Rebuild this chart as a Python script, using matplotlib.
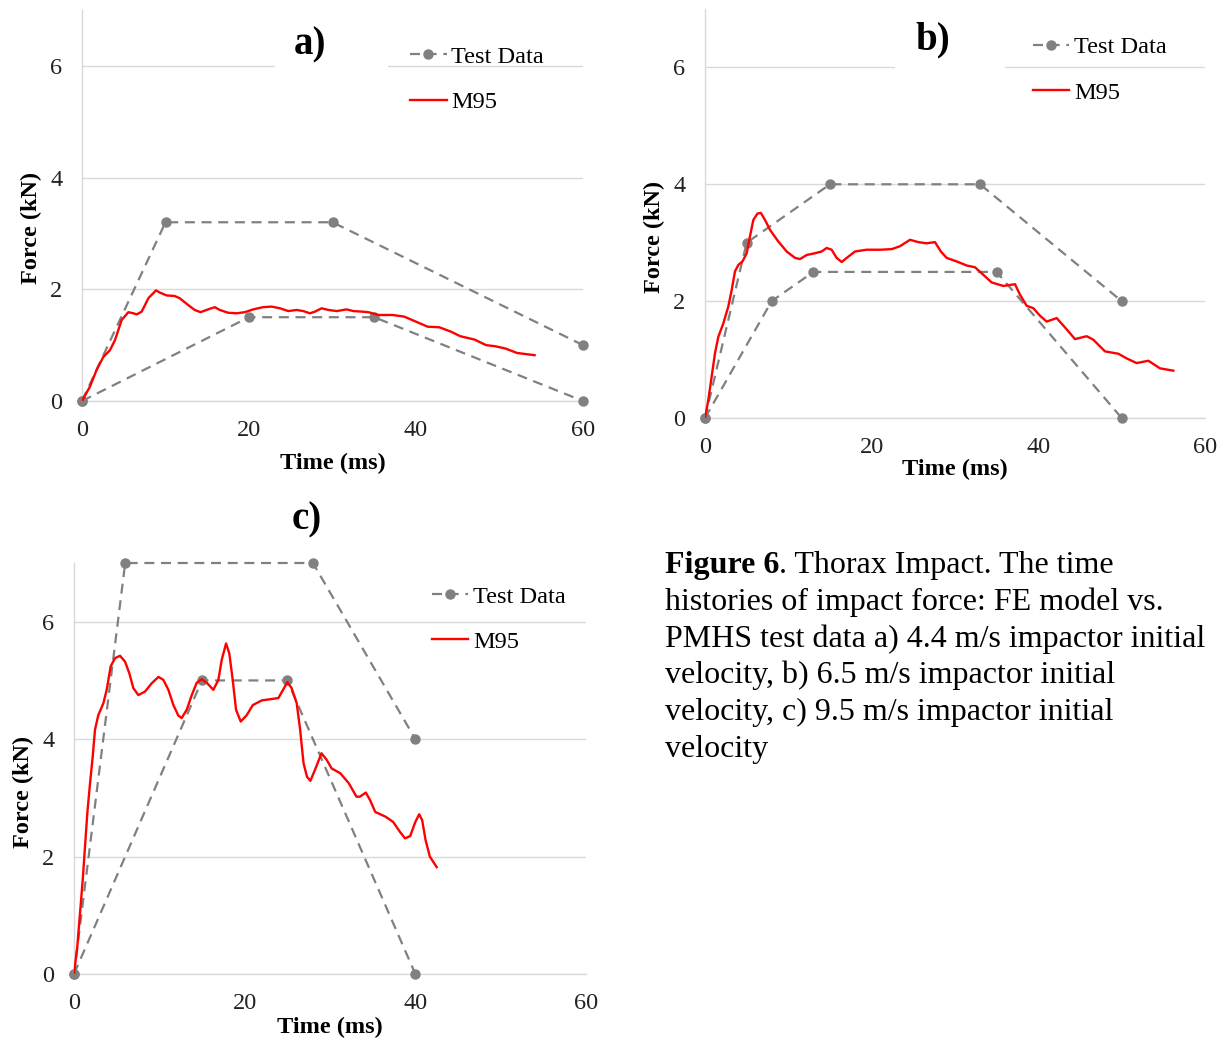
import matplotlib
matplotlib.use("Agg")
import matplotlib.pyplot as plt
from matplotlib.patches import Rectangle

plt.rcParams['font.family'] = ['Liberation Serif', 'DejaVu Serif']

# test data corridors (upper / lower) per panel
td_a_up_t = [0, 10, 30, 60]
td_a_up_f = [0, 3.2, 3.2, 1.0]
td_a_lo_t = [0, 20, 35, 60]
td_a_lo_f = [0, 1.5, 1.5, 0]

td_b_up_t = [0, 5, 15, 33, 50]
td_b_up_f = [0, 3.0, 4.0, 4.0, 2.0]
td_b_lo_t = [0, 8, 13, 35, 50]
td_b_lo_f = [0, 2.0, 2.5, 2.5, 0]

td_c_up_t = [0, 6, 28, 40]
td_c_up_f = [0, 7.0, 7.0, 4.0]
td_c_lo_t = [0, 15, 25, 40]
td_c_lo_f = [0, 5.0, 5.0, 0]

# M95 model curves
m95_a_t = [0, 0.96, 1.76, 2.56, 3.35, 3.95, 4.75, 5.55, 6.15, 6.55,
           7.15, 7.95, 8.86, 9.34, 10.14, 11.1, 11.7, 12.7, 13.5, 14.2,
           15.1, 15.9, 16.5, 17.5, 18.5, 19.5, 20.5, 21.7, 22.7, 23.7,
           24.7, 25.7, 26.5, 27.3, 27.9, 28.7, 29.5, 30.5, 31.7, 32.5,
           33.5, 34.3, 35.5, 37.2, 38.6, 40.0, 41.4, 42.8, 44.2, 45.3,
           47.0, 48.4, 49.5, 50.7, 52.1, 54.2]
m95_a_f = [0, 0.26, 0.56, 0.79, 0.91, 1.09, 1.45, 1.59, 1.57, 1.55,
           1.60, 1.84, 1.98, 1.94, 1.89, 1.88, 1.84, 1.72, 1.63, 1.59,
           1.64, 1.68, 1.63, 1.58, 1.57, 1.59, 1.64, 1.68, 1.69, 1.66,
           1.61, 1.63, 1.61, 1.57, 1.60, 1.66, 1.63, 1.61, 1.64, 1.61,
           1.60, 1.59, 1.54, 1.54, 1.51, 1.42, 1.33, 1.32, 1.24, 1.16,
           1.10, 1.00, 0.98, 0.94, 0.86, 0.82]

m95_b_t = [0, 0.4, 0.8, 1.2, 1.6, 2.2, 2.8, 3.2, 3.6, 4.0,
           4.5, 5.0, 5.4, 5.8, 6.3, 6.7, 7.2, 7.8, 8.8, 9.8,
           10.8, 11.4, 12.2, 13.2, 14.0, 14.6, 15.2, 15.8, 16.4, 17.0,
           18.0, 19.4, 21.0, 22.4, 23.4, 24.6, 25.6, 26.6, 27.6, 28.3,
           29.0, 30.2, 31.4, 32.4, 33.4, 34.4, 35.8, 37.2, 37.8, 38.6,
           39.4, 40.2, 41.0, 42.2, 43.2, 44.4, 45.8, 46.6, 48.0, 49.6,
           50.6, 51.8, 53.2, 54.6, 56.2]
m95_b_f = [0, 0.31, 0.71, 1.11, 1.39, 1.62, 1.91, 2.19, 2.51, 2.62,
           2.68, 2.82, 3.11, 3.39, 3.50, 3.51, 3.39, 3.22, 3.02, 2.85,
           2.74, 2.72, 2.79, 2.82, 2.85, 2.91, 2.88, 2.74, 2.67, 2.74,
           2.85, 2.88, 2.88, 2.89, 2.94, 3.05, 3.01, 2.99, 3.01, 2.85,
           2.74, 2.68, 2.61, 2.58, 2.45, 2.32, 2.26, 2.29, 2.11, 1.92,
           1.88, 1.75, 1.65, 1.71, 1.55, 1.35, 1.40, 1.34, 1.14, 1.10,
           1.02, 0.94, 0.98, 0.85, 0.81]

m95_c_t = [0, 0.39, 0.70, 1.02, 1.29, 1.56, 1.88, 2.19, 2.46, 2.85,
           3.44, 3.83, 4.30, 4.81, 5.39, 5.98, 6.49, 6.95, 7.54, 8.32,
           9.1, 9.89, 10.47, 11.06, 11.65, 12.23, 12.62, 13.21, 13.80, 14.38,
           14.97, 15.56, 16.33, 16.92, 17.31, 17.82, 18.2, 18.6, 18.99, 19.54,
           20.25, 20.95, 22.0, 23.0, 23.95, 24.5, 25.0, 25.5, 26.1, 26.5,
           26.9, 27.3, 27.7, 28.25, 29.0, 29.6, 30.2, 31.2, 32.2, 33.1,
           33.5, 34.2, 34.7, 35.3, 36.5, 37.4, 38.2, 38.8, 39.4, 40.0,
           40.45, 40.8, 41.2, 41.7, 42.5]
m95_c_f = [0, 0.47, 1.03, 1.60, 2.17, 2.74, 3.25, 3.70, 4.16, 4.41,
           4.61, 4.84, 5.24, 5.38, 5.42, 5.32, 5.12, 4.87, 4.75, 4.81,
           4.95, 5.06, 5.01, 4.84, 4.58, 4.40, 4.36, 4.50, 4.75, 4.96,
           5.02, 4.96, 4.84, 5.01, 5.35, 5.63, 5.46, 5.01, 4.50, 4.30,
           4.41, 4.58, 4.66, 4.68, 4.70, 4.84, 4.97, 4.87, 4.61, 4.16,
           3.59, 3.36, 3.29, 3.48, 3.76, 3.65, 3.50, 3.42, 3.25, 3.02,
           3.02, 3.09, 2.96, 2.76, 2.68, 2.59, 2.42, 2.31, 2.35, 2.59,
           2.72, 2.62, 2.28, 2.00, 1.82]

W, H = 1224, 1044
fig = plt.figure(figsize=(W / 100, H / 100), dpi=100)

GRID = '#d9d9d9'
GREY = '#808080'


def px_rect(left, right, top, bottom):
    return [left / W, (H - bottom) / H, (right - left) / W, (bottom - top) / H]


def panel(rect, up, lo, m95, title, title_xy, leg_xy, xlab_y, gap=None):
    ax = fig.add_axes(rect)
    ax.set_xlim(0, 60)
    ax.set_ylim(0, 7)
    ax.set_xticks([0, 20, 40, 60])
    ax.set_yticks([0, 2, 4, 6])
    ax.set_axisbelow(True)
    ax.grid(axis='y', color=GRID, lw=1.0)
    for s in ('top', 'right'):
        ax.spines[s].set_visible(False)
    for s in ('left', 'bottom'):
        ax.spines[s].set_color(GRID)
        ax.spines[s].set_linewidth(1.0)
    ax.tick_params(length=0, labelsize=17.5, pad=14, colors='#222222')
    ax.set_xlabel('Time (ms)', fontsize=17.5, fontweight='bold', va='center')
    ax.set_ylabel('Force (kN)', fontsize=17.5, fontweight='bold', labelpad=6)
    ax.xaxis.set_label_coords(0.5, xlab_y)
    ax.yaxis.label.set_y(0.443)

    ax.plot(up[0], up[1], color=GREY, lw=1.6, dashes=(4.5, 3), marker='o',
            ms=6.5, label='Test Data', clip_on=False, zorder=3)
    ax.plot(lo[0], lo[1], color=GREY, lw=1.6, dashes=(4.5, 3), marker='o',
            ms=6.5, clip_on=False, zorder=3)
    ax.plot(m95[0], m95[1], color='#ff0000', lw=1.7, label='M95', zorder=4)

    if gap is not None:
        # white chart-title box that hides the top gridline
        ax.add_patch(Rectangle((gap[0], gap[2]), gap[1] - gap[0], gap[3] - gap[2],
                               transform=ax.transAxes, fc='white', ec='none',
                               zorder=2.5))
    ax.text(title_xy[0], title_xy[1], title, transform=ax.transAxes,
            fontsize=28, fontweight='bold', ha='center', va='center', zorder=5)
    ax.legend(loc='upper left', bbox_to_anchor=leg_xy, frameon=False,
              fontsize=17.5, handlelength=1.5, handletextpad=0.2,
              labelspacing=0.95, borderpad=0, borderaxespad=0)
    return ax


panel(px_rect(82, 583, 10, 401), (td_a_up_t, td_a_up_f), (td_a_lo_t, td_a_lo_f),
      (m95_a_t, m95_a_f), 'a)', (0.455, 0.91), (0.655, 0.908), -0.159,
      gap=(0.385, 0.611, 0.80, 0.93))
panel(px_rect(705, 1205, 9, 418), (td_b_up_t, td_b_up_f), (td_b_lo_t, td_b_lo_f),
      (m95_b_t, m95_b_f), 'b)', (0.455, 0.925), (0.656, 0.933), -0.127,
      gap=(0.38, 0.60, 0.80, 0.93))
panel(px_rect(74, 586, 563, 974), (td_c_up_t, td_c_up_f), (td_c_lo_t, td_c_lo_f),
      (m95_c_t, m95_c_f), 'c)', (0.455, 1.105), (0.699, 0.945), -0.131)

# caption
cap_lines = [
    ". Thorax Impact. The time",
    "histories of impact force: FE model vs.",
    "PMHS test data a) 4.4 m/s impactor initial",
    "velocity, b) 6.5 m/s impactor initial",
    "velocity, c) 9.5 m/s impactor initial",
    "velocity",
]
x0 = 665
base0 = 573
step = 36.8
fig.canvas.draw()
renderer = fig.canvas.get_renderer()
bold = fig.text(x0 / W, 1 - base0 / H, 'Figure 6', fontsize=23, fontweight='bold',
                va='baseline', ha='left')
bb = bold.get_window_extent(renderer)
fig.text(bb.x1 / W, 1 - base0 / H, cap_lines[0], fontsize=23, va='baseline', ha='left')
for i, line in enumerate(cap_lines[1:], start=1):
    fig.text(x0 / W, 1 - (base0 + i * step) / H, line, fontsize=23,
             va='baseline', ha='left')

fig.savefig('out.png', dpi=100)
